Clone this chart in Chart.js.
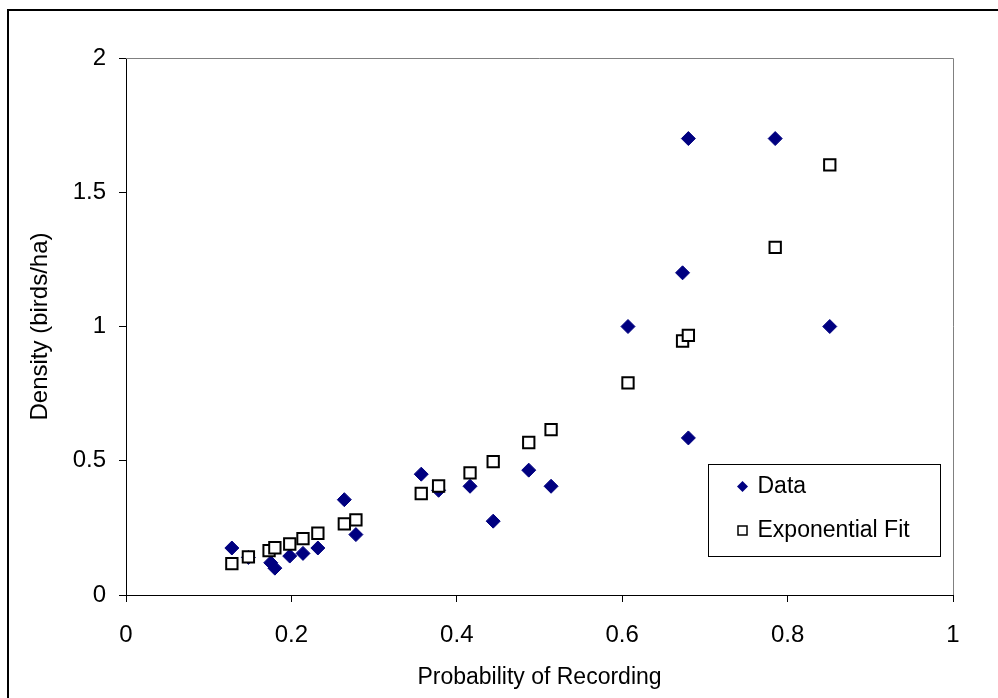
<!DOCTYPE html>
<html>
<head>
<meta charset="utf-8">
<script src="https://cdn.jsdelivr.net/npm/chart.js@4"></script>
<style>
  html, body { margin: 0; padding: 0; background: #fff; }
  canvas { display: block; }
</style>
</head>
<body>
<canvas id="chart" width="998" height="698"></canvas>
<script>
// probability of recording vs density, observed points
const dataX = [0.128, 0.148, 0.175, 0.180, 0.198, 0.214, 0.232, 0.264, 0.278, 0.357, 0.378,
  0.416, 0.444, 0.487, 0.514, 0.607, 0.673, 0.680, 0.680, 0.785, 0.851];
const dataY = [0.175, 0.14, 0.12, 0.10, 0.145, 0.155, 0.175, 0.355, 0.225, 0.45, 0.39,
  0.405, 0.275, 0.465, 0.405, 1.0, 1.2, 1.7, 0.585, 1.7, 1.0];

// exponential fit
const fitX = [0.128, 0.148, 0.173, 0.180, 0.198, 0.214, 0.232, 0.264, 0.278, 0.357, 0.378,
  0.416, 0.444, 0.487, 0.514, 0.607, 0.673, 0.680, 0.785, 0.851];
const fitY = [0.117, 0.142, 0.165, 0.176, 0.19, 0.21, 0.23, 0.265, 0.28, 0.378, 0.406,
  0.455, 0.497, 0.568, 0.616, 0.79, 0.946, 0.967, 1.295, 1.602];

const xTicks = [0, 0.2, 0.4, 0.6, 0.8, 1];
const yTicks = [0, 0.5, 1, 1.5, 2];

const FONT = "'Liberation Sans', Arial, sans-serif";

const toPoints = (xs, ys) => xs.map((x, i) => ({ x: x, y: ys[i] }));

// outer frame + gray top/right plot border
const framePlugin = {
  id: "frame",
  beforeDraw(chart) {
    const ctx = chart.ctx;
    ctx.save();
    ctx.strokeStyle = "#000";
    ctx.lineWidth = 2;
    ctx.strokeRect(8, 10, 1000, 700);
    ctx.restore();
  },
  beforeDatasetsDraw(chart) {
    const { ctx, chartArea: a } = chart;
    ctx.save();
    ctx.strokeStyle = "#808080";
    ctx.lineWidth = 1;
    ctx.beginPath();
    ctx.moveTo(a.left, a.top + 0.5);
    ctx.lineTo(a.right + 0.5, a.top + 0.5);
    ctx.lineTo(a.right + 0.5, a.bottom);
    ctx.stroke();
    ctx.restore();
  }
};

// boxed legend inside the plot, like the original
const boxLegend = {
  id: "boxLegend",
  afterDraw(chart) {
    const ctx = chart.ctx;
    const box = { x: 708.5, y: 464.5, w: 232, h: 92 };
    ctx.save();
    ctx.fillStyle = "#fff";
    ctx.fillRect(box.x, box.y, box.w, box.h);
    ctx.strokeStyle = "#000";
    ctx.lineWidth = 1;
    ctx.strokeRect(box.x, box.y, box.w, box.h);
    ctx.font = "23px " + FONT;
    ctx.textBaseline = "middle";
    ctx.textAlign = "left";
    chart.data.datasets.forEach((ds, i) => {
      const cy = box.y + 22 + i * 44;
      const cx = box.x + 34;
      ctx.beginPath();
      if (ds.pointStyle === "rectRot") {
        ctx.moveTo(cx, cy - 5.5);
        ctx.lineTo(cx + 5.5, cy);
        ctx.lineTo(cx, cy + 5.5);
        ctx.lineTo(cx - 5.5, cy);
        ctx.closePath();
        ctx.fillStyle = ds.backgroundColor;
        ctx.fill();
      } else {
        ctx.rect(cx - 4.5, cy - 4.5, 9, 9);
        ctx.fillStyle = "#fff";
        ctx.fill();
        ctx.strokeStyle = "#000";
        ctx.lineWidth = 1.5;
        ctx.stroke();
      }
      ctx.fillStyle = "#000";
      ctx.fillText(ds.label, box.x + 49, cy);
    });
    ctx.restore();
  }
};

new Chart(document.getElementById("chart"), {
  type: "scatter",
  data: {
    datasets: [
      {
        label: "Data",
        data: toPoints(dataX, dataY),
        pointStyle: "rectRot",
        pointRadius: 7,
        backgroundColor: "#000080",
        borderColor: "#000080",
        borderWidth: 1,
        order: 1
      },
      {
        label: "Exponential Fit",
        data: toPoints(fitX, fitY),
        pointStyle: "rect",
        pointRadius: 8,
        backgroundColor: "#fff",
        borderColor: "#000",
        borderWidth: 2,
        order: 0
      }
    ]
  },
  options: {
    responsive: false,
    animation: false,
    devicePixelRatio: 1,
    layout: { padding: { top: 58, right: 45, bottom: 0, left: 0 } },
    plugins: {
      legend: { display: false },
      tooltip: { enabled: false }
    },
    scales: {
      x: {
        type: "linear",
        min: 0,
        max: 1,
        afterBuildTicks: axis => { axis.ticks = xTicks.map(v => ({ value: v })); },
        afterFit: axis => { axis.height = 103; },
        grid: { drawOnChartArea: false, drawTicks: true, tickLength: 7, color: "#000" },
        border: { color: "#000", width: 1 },
        ticks: {
          color: "#000",
          padding: 19,
          font: { family: FONT, size: 24 },
          callback: v => String(v)
        },
        title: {
          display: true,
          text: "Probability of Recording",
          color: "#000",
          font: { family: FONT, size: 23 },
          padding: { top: 0, bottom: 7 }
        }
      },
      y: {
        type: "linear",
        min: 0,
        max: 2,
        afterBuildTicks: axis => { axis.ticks = yTicks.map(v => ({ value: v })); },
        afterFit: axis => { axis.width = 126; },
        grid: { drawOnChartArea: false, drawTicks: true, tickLength: 7, color: "#000" },
        border: { color: "#000", width: 1 },
        ticks: {
          color: "#000",
          padding: 13,
          font: { family: FONT, size: 24 },
          callback: v => String(v)
        },
        title: {
          display: true,
          text: "Density (birds/ha)",
          color: "#000",
          font: { family: FONT, size: 24 },
          padding: { top: 26, bottom: 0 }
        }
      }
    }
  },
  plugins: [framePlugin, boxLegend]
});
</script>
</body>
</html>
